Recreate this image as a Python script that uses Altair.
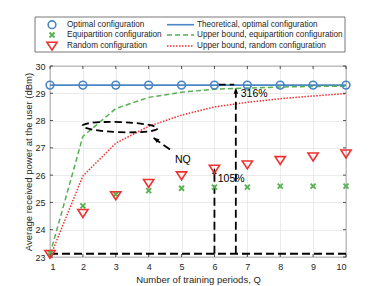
import altair as alt
import pandas as pd

# ---------------- data ----------------
Q = [1, 2, 3, 4, 5, 6, 7, 8, 9, 10]
optimal_cfg = [29.3, 29.3, 29.3, 29.3, 29.3, 29.3, 29.3, 29.3, 29.3, 29.3]
equipartition_cfg = [23.15, 24.87, 25.3, 25.43, 25.52, 25.56, 25.56, 25.6, 25.6, 25.6]
random_cfg = [23.1, 24.6, 25.25, 25.7, 25.98, 26.22, 26.38, 26.54, 26.67, 26.78]
theoretical_opt = [29.3, 29.3, 29.3, 29.3, 29.3, 29.3, 29.3, 29.3, 29.3, 29.3]
ub_equipartition = [23.1, 27.42, 28.44, 28.85, 29.04, 29.15, 29.19, 29.23, 29.25, 29.26]
ub_random = [23.0, 25.97, 27.17, 27.79, 28.2, 28.5, 28.67, 28.8, 28.9, 28.99]

x_ticks = [1, 2, 3, 4, 5, 6, 7, 8, 9, 10]
y_ticks = [23, 24, 25, 26, 27, 28, 29, 30]

legend_markers = ["Optimal configuration", "Equipartition configuration", "Random configuration"]
legend_lines = ["Theoretical, optimal configuration", "Upper bound, equipartition configuration",
                "Upper bound, random configuration"]

# annotations (data coordinates)
ann_segments_Q = [1, 6, 6.65, 6.1, 4.65]
ann_segments_P = [23.12, 23.12, 23.12, 29.32, 26.94]
ann_segments_Q2 = [10, 6, 6.65, 6.6, 4.14]
ann_segments_P2 = [23.12, 26.2, 29.15, 29.32, 27.37]
arrow_tip_Q = [6, 6.65, 4.14]
arrow_tip_P = [26.26, 29.2, 27.37]
arrow_angle = [0, 0, 305]
ann_text = ["105%", "316%", "NQ"]
ann_text_Q = [6.1, 6.8, 4.8]
ann_text_P = [25.86, 28.96, 26.57]
ellipse_Q = [3.13]
ellipse_P = [27.76]

BLUE = "#4A86C4"
GREEN = "#55B04F"
RED = "#EE3131"
DARK = "#262626"
FONT = "Liberation Sans"

W, H = 296, 191

xscale = alt.Scale(domain=[1, 10], nice=False, zero=False)
yscale = alt.Scale(domain=[23, 30], nice=False, zero=False)
xaxis = alt.Axis(values=x_ticks, title="Number of training periods, Q", format="d",
                 titleX=W / 2, titleY=22, titleBaseline="middle", titleAlign="center")
yaxis = alt.Axis(values=y_ticks, title="Average received power at the user (dBm)", format="d",
                 titleX=-22, titleY=H / 2, titleBaseline="middle", titleAlign="center", titleAngle=270)


def X(f):
    return alt.X(f, type="quantitative", scale=xscale, axis=xaxis)


def Y(f):
    return alt.Y(f, type="quantitative", scale=yscale, axis=yaxis)


df = pd.DataFrame({
    "Q": Q, "opt": optimal_cfg, "equi": equipartition_cfg, "rand": random_cfg,
    "theo": theoretical_opt, "ube": ub_equipartition, "ubr": ub_random,
})

layers = []
# lines
layers.append(alt.Chart(df).mark_line(color=BLUE, strokeWidth=1.6).encode(x=X("Q"), y=Y("theo")))
layers.append(alt.Chart(df).mark_line(color=GREEN, strokeWidth=1.5, strokeDash=[5, 3]).encode(x=X("Q"), y=Y("ube")))
layers.append(alt.Chart(df).mark_line(color=RED, strokeWidth=1.5, strokeDash=[1.5, 1.5]).encode(x=X("Q"), y=Y("ubr")))

# inward box ticks (matlab style)
xt = pd.DataFrame({"Q": x_ticks})
yt = pd.DataFrame({"P": y_ticks})
layers.append(alt.Chart(xt).mark_rule(color=DARK, strokeWidth=0.8).encode(x=X("Q"), y=alt.value(H), y2=alt.value(H - 3)))
layers.append(alt.Chart(xt).mark_rule(color=DARK, strokeWidth=0.8).encode(x=X("Q"), y=alt.value(0), y2=alt.value(3)))
layers.append(alt.Chart(yt).mark_rule(color=DARK, strokeWidth=0.8).encode(y=Y("P"), x=alt.value(0), x2=alt.value(3)))
layers.append(alt.Chart(yt).mark_rule(color=DARK, strokeWidth=0.8).encode(y=Y("P"), x=alt.value(W), x2=alt.value(W - 3)))

# annotation segments
seg = pd.DataFrame({"Q": ann_segments_Q, "P": ann_segments_P, "Q2": ann_segments_Q2, "P2": ann_segments_P2})
layers.append(alt.Chart(seg).mark_rule(color="black", strokeWidth=1.8, strokeDash=[8, 4]).encode(
    x=X("Q"), y=Y("P"), x2="Q2", y2="P2"))
tips = pd.DataFrame({"Q": arrow_tip_Q, "P": arrow_tip_P, "ang": arrow_angle})
layers.append(alt.Chart(tips).mark_point(shape="M0,0L0.75,2L-0.75,2Z", filled=True, fill="black",
                                         opacity=1, size=36, strokeWidth=0).encode(
    x=X("Q"), y=Y("P"), angle=alt.Angle("ang:Q", scale=None)))
ell = pd.DataFrame({"Q": ellipse_Q, "P": ellipse_P})
layers.append(alt.Chart(ell).mark_point(shape="M-1,0A1,0.135 0 1,1 1,0A1,0.135 0 1,1 -1,0Z", filled=False,
                                        color="black", strokeWidth=1.8, strokeDash=[7, 4], size=5625,
                                        opacity=1, angle=2).encode(x=X("Q"), y=Y("P")))

# markers
layers.append(alt.Chart(df).mark_point(shape="circle", filled=False, color=BLUE, size=60, strokeWidth=1.6,
                                       opacity=1).encode(x=X("Q"), y=Y("opt")))
layers.append(alt.Chart(df).mark_point(shape="M-1,-1L1,1M-1,1L1,-1", filled=False, color=GREEN, size=25,
                                       strokeWidth=1.8, opacity=1).encode(x=X("Q"), y=Y("equi")))
layers.append(alt.Chart(df).mark_point(shape="M-1,-0.75L1,-0.75L0,0.8Z", filled=False, color=RED, size=104,
                                       strokeWidth=1.6, opacity=1).encode(x=X("Q"), y=Y("rand")))

# annotation text
txt = pd.DataFrame({"Q": ann_text_Q, "P": ann_text_P, "t": ann_text})
layers.append(alt.Chart(txt).mark_text(align="left", baseline="middle", font=FONT, fontSize=10.5,
                                       color="black").encode(x=X("Q"), y=Y("P"), text="t:N"))

# ---------------- legend (drawn manually, pixel positions inside view) ----------------
leg_x0, leg_x1, leg_y0, leg_y1 = -15, 295, -49, -14
rows_y = [-41.3, -31, -20]
box = pd.DataFrame({"k": [0]})
layers.append(alt.Chart(box).mark_rect(fill="white", stroke="#555555", strokeWidth=0.8).encode(
    x=alt.value(leg_x0), x2=alt.value(leg_x1), y=alt.value(leg_y0), y2=alt.value(leg_y1)))

marker_styles = [
    dict(shape="circle", filled=False, color=BLUE, size=60, strokeWidth=1.6, opacity=1),
    dict(shape="M-1,-1L1,1M-1,1L1,-1", filled=False, color=GREEN, size=25, strokeWidth=1.8, opacity=1),
    dict(shape="M-1,-0.75L1,-0.75L0,0.8Z", filled=False, color=RED, size=104, strokeWidth=1.6, opacity=1),
]
line_styles = [
    dict(color=BLUE, strokeWidth=1.6),
    dict(color=GREEN, strokeWidth=1.5, strokeDash=[5, 3]),
    dict(color=RED, strokeWidth=1.5, strokeDash=[1.5, 1.5]),
]
for i in range(3):
    d1 = pd.DataFrame({"label": [legend_markers[i]]})
    layers.append(alt.Chart(d1).mark_point(**marker_styles[i]).encode(x=alt.value(2), y=alt.value(rows_y[i])))
    layers.append(alt.Chart(d1).mark_text(align="left", baseline="middle", font=FONT, fontSize=8.2,
                                          color=DARK).encode(x=alt.value(17), y=alt.value(rows_y[i]),
                                                             text="label:N"))
    d2 = pd.DataFrame({"label": [legend_lines[i]]})
    layers.append(alt.Chart(d2).mark_rule(**line_styles[i]).encode(
        x=alt.value(117), x2=alt.value(144), y=alt.value(rows_y[i])))
    layers.append(alt.Chart(d2).mark_text(align="left", baseline="middle", font=FONT, fontSize=8.2,
                                          color=DARK).encode(x=alt.value(147), y=alt.value(rows_y[i]),
                                                             text="label:N"))

chart = alt.layer(*layers).properties(
    width=W, height=H,
    padding={"left": 42, "top": 58, "right": 28, "bottom": 30},
    autosize=alt.AutoSizeParams(type="none"),
).configure_view(stroke=DARK, strokeWidth=0.8).configure_axis(
    grid=True, gridColor="#e2e2e2", gridWidth=0.7, domain=False, ticks=False, tickSize=0,
    labelFont=FONT, labelFontSize=9, labelColor=DARK, labelPadding=5,
    titleFont=FONT, titleFontSize=9.5, titleFontWeight="normal", titleColor=DARK,
)

chart.save("out.html", embed_options={"renderer": "svg", "actions": False})
